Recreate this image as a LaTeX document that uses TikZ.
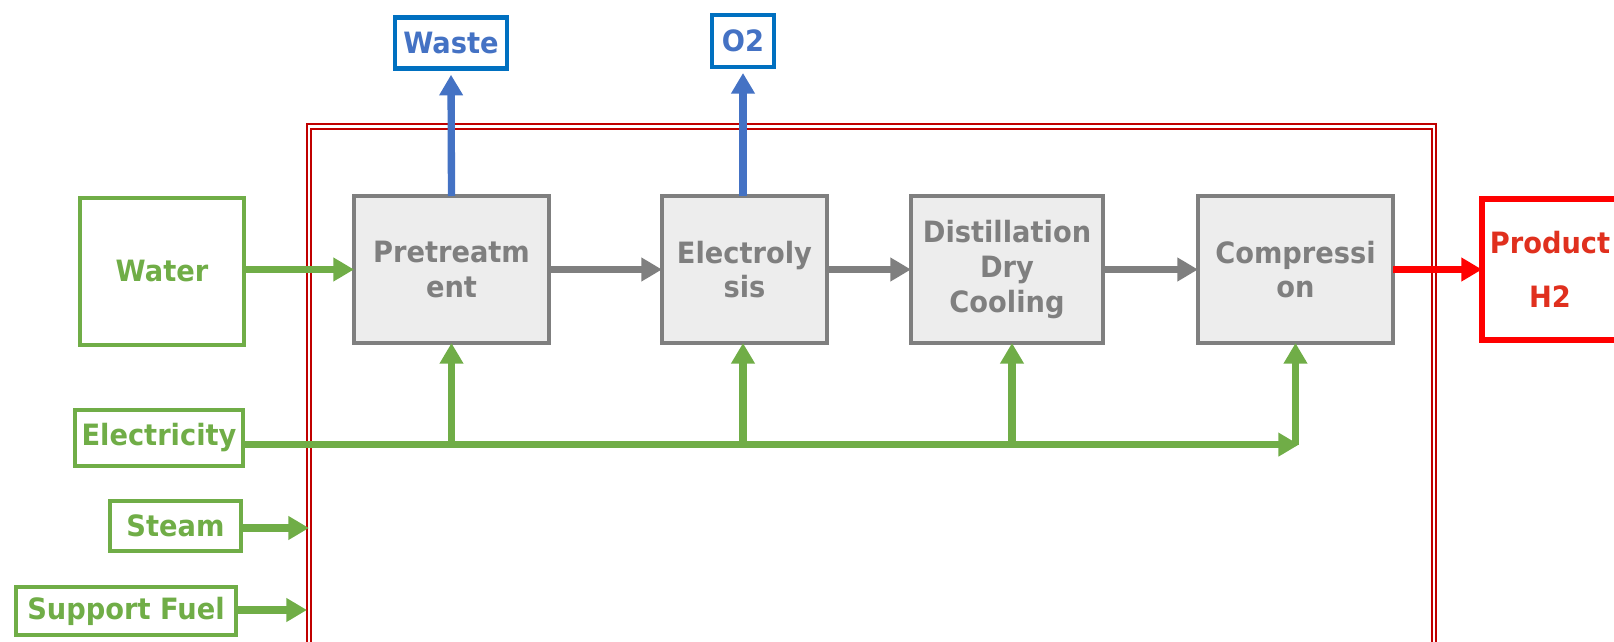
\documentclass[tikz,border=0pt]{standalone}
\usepackage{fontspec}
\setmainfont{DejaVu Sans}[FakeStretch=0.93]
\usetikzlibrary{arrows.meta}
\definecolor{cgreen}{HTML}{70AD47}
\definecolor{cgray}{HTML}{7F7F7F}
\definecolor{cfill}{HTML}{EDEDED}
\definecolor{cblue}{HTML}{4472C4}
\definecolor{cblueb}{HTML}{0070C0}
\definecolor{cframe}{HTML}{C00000}
\definecolor{cred}{HTML}{FF0000}
\definecolor{credtext}{HTML}{E0301E}
\tikzset{
  wh/.style 2 args={minimum width=#1*0.75pt, minimum height=#2*0.75pt},
  lbl/.style={font=\fontsize{22}{26}\selectfont\bfseries, align=center, inner sep=0pt, outer sep=0pt},
  procbox/.style={lbl, draw=cgray, fill=cfill, line width=2.3pt, text=cgray},
  inbox/.style={lbl, draw=cgreen, fill=white, line width=3pt, text=cgreen},
  outbox/.style={lbl, draw=cblueb, fill=white, line width=3.6pt, text=cblue},
  prodbox/.style={lbl, draw=cred, fill=white, line width=3.8pt, text=credtext},
  tipg/.style={-{Triangle[length=15.5pt,width=17pt]}},
  garrow/.style={tipg, draw=cgreen, line width=5.5pt},
  grarrow/.style={tipg, draw=cgray, line width=5.5pt},
  barrow/.style={tipg, draw=cblue, line width=5.5pt},
  rarrow/.style={tipg, draw=cred, line width=5.5pt},
  frame/.style={draw=cframe, line width=1.5pt, double=white, double distance=2pt},
}
\begin{document}
\begin{tikzpicture}[x=0.75pt,y=-0.75pt]
\useasboundingbox (0,0) rectangle (1614,642);
\clip (0,0) rectangle (1614,642);
% red double frame
\coordinate (fbl) at (309,700);
\coordinate (ftl) at (309,126.6);
\coordinate (ftr) at (1434,126.6);
\coordinate (fbr) at (1434,700);
\draw[frame] (fbl) -- (ftl) -- (ftr) -- (fbr);
% process boxes
\node[procbox, wh={195}{147}] (pre)  at (451.5,269.5) {Pretreatm\\ent};
\node[procbox, wh={165}{147}] (ele)  at (744.5,269.5) {Electroly\\sis};
\node[procbox, wh={192}{147}] (dist) at (1007,269.5) {Distillation\\Dry\\Cooling};
\node[procbox, wh={195}{147}] (comp) at (1295.5,269.5) {Compressi\\on};
% inputs
\node[inbox, wh={164}{147}] (water) at (162,271.5) {Water};
\node[inbox, wh={168}{56}] (elec) at (159,438) {Electricity};
\node[inbox, wh={131}{50}] (steam) at (175.5,526) {Steam};
\node[inbox, wh={219.5}{48}] (fuel) at (126,611) {Support Fuel};
% outputs
\node[outbox, wh={112}{51.5}] (waste) at (451,43) {Waste};
\node[outbox, wh={62}{52}] (o2) at (743,41) {O2};
\node[prodbox, wh={136}{141}] (prod) at (1550,269.5) {Product\\[15pt]H2};
% main flow
\draw[garrow] (water.east |- pre.west) -- (pre.west);
\draw[grarrow] (pre.east) -- (ele.west);
\draw[grarrow] (ele.east) -- (dist.west);
\draw[grarrow] (dist.east) -- (comp.west);
\draw[rarrow] (comp.east) -- (prod.west);
% outputs up
\draw[barrow, shorten >=4.5pt] (pre.north) -- (waste.south);
\draw[barrow, shorten >=4.5pt] (ele.north -| o2.south) -- (o2.south);
% electricity distribution
\coordinate (eend) at (1299,444.6);
\coordinate (dsb) at (1012,343);
\draw[garrow] (elec.east |- eend) -- (eend);
\draw[garrow] (pre.south |- eend) -- (pre.south);
\draw[garrow] (o2.south |- eend) -- (o2.south |- pre.south);
\draw[garrow] (dsb |- eend) -- (dsb);
\draw[garrow] (comp.south |- eend) -- (comp.south);
% steam and fuel
\coordinate (sin) at (309,528);
\coordinate (fin) at (307,610);
\draw[garrow] (steam.east |- sin) -- (sin);
\draw[garrow] (fuel.east |- fin) -- (fin);
\end{tikzpicture}
\end{document}
